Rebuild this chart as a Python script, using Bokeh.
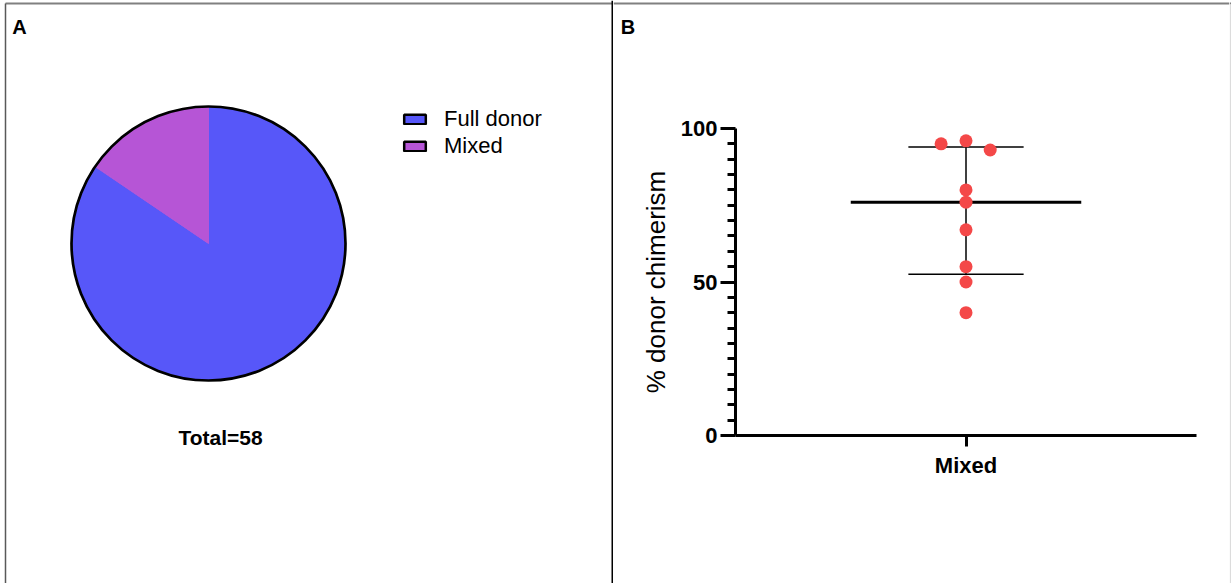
import numpy as np
from bokeh.plotting import figure
from bokeh.layouts import row, column
from bokeh.models import (Range1d, Legend, LegendItem, Label,
                          FixedTicker, ColumnDataSource, Plot)
from bokeh.embed import file_html
from bokeh.resources import INLINE

# ---------------- data ----------------
# Panel A: chimerism status
status_labels = ["Full donor", "Mixed"]
status_counts = [49, 9]
status_colors = ["#5757F9", "#B655D6"]

# Panel B: % donor chimerism in the mixed group
group_names = ["Mixed"]
chimerism = [95, 96, 93, 80, 76, 67, 55, 50, 40]
x_jitter = [-0.108, 0.0, 0.105, 0.0, 0.0, 0.0, 0.0, 0.0, 0.0]
y_major_ticks = [0, 50, 100]
y_minor_ticks = [5, 10, 15, 20, 25, 30, 35, 40, 45, 55, 60, 65, 70, 75, 80, 85, 90, 95]

FONT = "Liberation Sans"
H = 583
W_A = 613
W_EDGE = 2
W_B = 1231 - W_A - W_EDGE
H_BTOP = 60
NO_ALIGN = {"frame_align": False} if "frame_align" in Plot.properties() else {}


def blank(w, h):
    """A figure whose frame fills its whole canvas, 1 data unit = 1 px (y up)."""
    f = figure(width=w, height=h, x_range=Range1d(0, w), y_range=Range1d(0, h),
               output_backend="svg", toolbar_location=None,
               x_axis_location=None, y_axis_location=None,
               min_border=0, outline_line_color=None, **NO_ALIGN)
    f.grid.visible = False
    return f


# ---------------- panel A ----------------
pA = blank(W_A, H)
pA.segment(x0=[5], y0=[H - 3], x1=[W_A], y1=[H - 3], line_color="#808080", line_width=2)
pA.segment(x0=[5], y0=[H - 3], x1=[5], y1=[0], line_color="#595959", line_width=1.5)
pA.segment(x0=[612], y0=[H], x1=[612], y1=[0], line_color="black", line_width=2)

total = sum(status_counts)
frac = np.array(status_counts) / total
cum = np.concatenate([[0.0], np.cumsum(frac)])
start = np.pi / 2 - cum[:-1] * 2 * np.pi
end = np.pi / 2 - cum[1:] * 2 * np.pi
pie_src = ColumnDataSource(dict(label=status_labels, count=status_counts,
                                color=status_colors, start=start, end=end))
cx, cy, R = 208, H - 243, 137
pA.wedge(x=cx, y=cy, radius=R, start_angle="start", end_angle="end",
         direction="clock", fill_color="color", line_color="color", line_width=1,
         source=pie_src)
pA.circle(x=[cx], y=[cy], radius=R, fill_color=None, line_color="black", line_width=2.7)

items = []
for lab, col in zip(status_labels, status_colors):
    r = pA.quad(left=[np.nan], right=[np.nan], top=[np.nan], bottom=[np.nan],
                fill_color=col, line_color="black", line_width=2.5)
    items.append(LegendItem(label=lab, renderers=[r]))
legend = Legend(items=items, location=(401, H - 159), glyph_width=27, glyph_height=12,
                label_standoff=16, label_text_font=FONT, label_text_font_size="22px",
                label_text_color="black",
                label_height=24, spacing=1, padding=0, margin=0,
                border_line_color=None, background_fill_alpha=0)
pA.add_layout(legend)

pA.add_layout(Label(x=19, y=H - 26, text="A", text_align="center", text_baseline="middle",
                    text_font=FONT, text_font_style="bold", text_font_size="20px",
                    text_color="black"))
pA.add_layout(Label(x=220, y=H - 437, text=f"Total={total}", text_align="center",
                    text_baseline="middle", text_font=FONT, text_font_style="bold",
                    text_font_size="21px", text_color="black"))

# ---------------- panel B: top strip ----------------
pBt = blank(W_B, H_BTOP)
pBt.segment(x0=[0], y0=[H_BTOP - 3], x1=[W_B], y1=[H_BTOP - 3], line_color="#808080",
            line_width=2)
pBt.add_layout(Label(x=14.5, y=H_BTOP - 26, text="B", text_align="center",
                     text_baseline="middle", text_font=FONT, text_font_style="bold",
                     text_font_size="20px", text_color="black"))

# ---------------- panel B: chart ----------------
FL, FT, FB = 122, 128 - H_BTOP, 148
FR = W_B - FL - 461
pB = figure(width=W_B, height=H - H_BTOP, x_range=Range1d(0, 2), y_range=Range1d(0, 100),
            output_backend="svg", toolbar_location=None,
            min_border_left=FL, min_border_right=FR, min_border_top=FT,
            min_border_bottom=FB, outline_line_color=None, **NO_ALIGN)
pB.grid.visible = False

xa = pB.xaxis[0]
ya = pB.yaxis[0]
xa.ticker = FixedTicker(ticks=[1])
xa.major_label_overrides = {1: group_names[0]}
ya.ticker = FixedTicker(ticks=y_major_ticks, minor_ticks=y_minor_ticks)
for ax in (xa, ya):
    ax.axis_line_width = 3
    ax.axis_line_color = "black"
    ax.major_tick_line_width = 3
    ax.major_tick_in = 0
    ax.minor_tick_in = 0
    ax.major_label_text_font = FONT
    ax.major_label_text_font_style = "bold"
    ax.major_label_text_font_size = "22px"
    ax.major_label_text_color = "black"
ya.major_tick_out = 15
ya.minor_tick_out = 8
ya.minor_tick_line_width = 3
ya.minor_tick_line_color = "black"
ya.major_label_standoff = 3
ya.axis_label = "% donor chimerism"
ya.axis_label_text_font = FONT
ya.axis_label_text_font_style = "normal"
ya.axis_label_text_font_size = "26px"
ya.axis_label_text_color = "black"
ya.axis_label_standoff = 7
xa.major_tick_out = 11
xa.minor_tick_line_color = None
xa.major_label_standoff = 6

vals = np.array(chimerism, dtype=float)
med = np.median(vals)
q1, q3 = np.percentile(vals, [25, 75], method="weibull")
gx = 1.0
pB.segment(x0=[gx], y0=[q1], x1=[gx], y1=[q3], line_color="#404040", line_width=2)
pB.segment(x0=[gx - 0.25, gx - 0.25], y0=[q1, q3], x1=[gx + 0.25, gx + 0.25], y1=[q1, q3],
           line_color="black", line_width=1.5)
pB.segment(x0=[gx - 0.5], y0=[med], x1=[gx + 0.5], y1=[med], line_color="black", line_width=3)
pB.scatter(x=[gx + j for j in x_jitter], y=chimerism, size=13, fill_color="#F44848",
           line_color=None)

# ---------------- right edge strip ----------------
pE = blank(W_EDGE, H)
pE.segment(x0=[0], y0=[H - 3], x1=[W_EDGE], y1=[H - 3], line_color="#808080", line_width=2)
pE.segment(x0=[1], y0=[H - 4], x1=[1], y1=[0], line_color="#dcdcdc", line_width=1.5)

layout = row(pA, column(pBt, pB), pE)
open("out.html", "w").write(file_html(layout, INLINE))
